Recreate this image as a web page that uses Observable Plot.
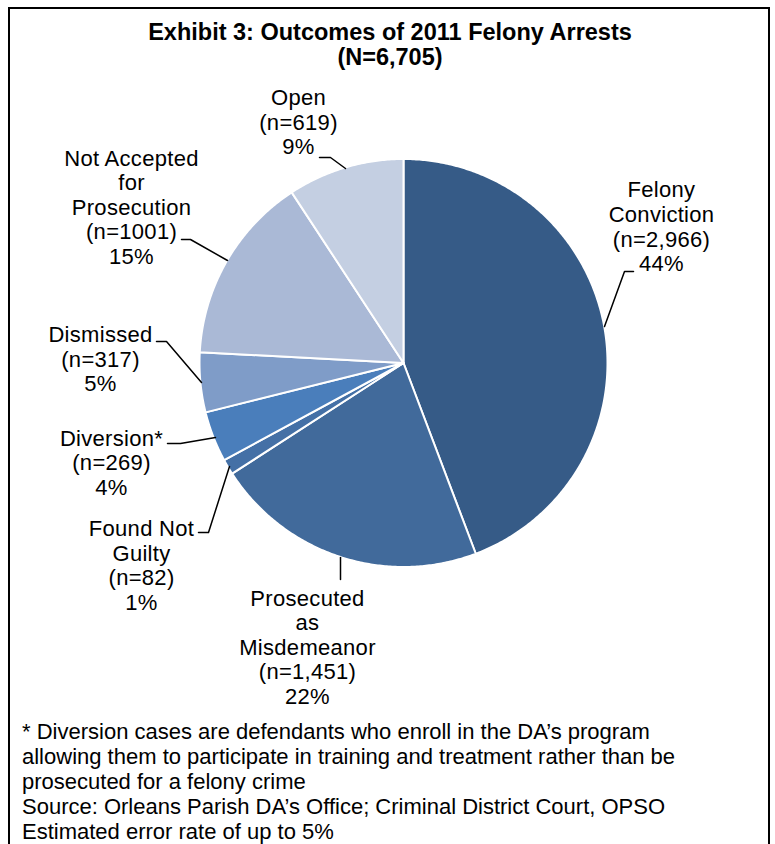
<!DOCTYPE html>
<html>
<head>
<meta charset="utf-8">
<script src="https://cdn.jsdelivr.net/npm/d3@7"></script>
<script src="https://cdn.jsdelivr.net/npm/@observablehq/plot@0.6"></script>
<style>
  html, body { margin: 0; padding: 0; background: #fff; overflow: hidden; }
  body { width: 775px; height: 844px; position: relative; font-family: "Liberation Sans", Arial, sans-serif; color: #000; }
  #chart { position: absolute; left: 0; top: 0; }
  #frame { position: absolute; left: 8px; top: 7px; width: 762px; height: 900px; border: 2.5px solid #000; border-bottom: none; box-sizing: border-box; pointer-events: none; }
  #title { position: absolute; left: 8px; width: 764px; top: 20px; text-align: center; font-weight: bold; font-size: 23.5px; line-height: 25px; }
  #note { position: absolute; left: 22px; top: 719px; font-size: 22px; line-height: 25px; white-space: nowrap; }
</style>
</head>
<body>
<div id="chart"></div>
<div id="frame"></div>
<div id="title">Exhibit 3: Outcomes of 2011 Felony Arrests<br>(N=6,705)</div>
<div id="note">* Diversion cases are defendants who enroll in the DA’s program<br>allowing them to participate in training and treatment rather than be<br>prosecuted for a felony crime<br>Source: Orleans Parish DA’s Office; Criminal District Court, OPSO<br>Estimated error rate of up to 5%</div>
<script>
// ---- data ----
const categories = ["Felony Conviction", "Prosecuted as Misdemeanor", "Found Not Guilty", "Diversion*", "Dismissed", "Not Accepted for Prosecution", "Open"];
const nameLines = ["Felony\nConviction", "Prosecuted\nas\nMisdemeanor", "Found Not\nGuilty", "Diversion*", "Dismissed", "Not Accepted\nfor\nProsecution", "Open"];
const counts = [2966, 1451, 82, 269, 317, 1001, 619];
const countLabels = ["(n=2,966)", "(n=1,451)", "(n=82)", "(n=269)", "(n=317)", "(n=1001)", "(n=619)"];
const percentLabels = ["44%", "22%", "1%", "4%", "5%", "15%", "9%"];
const colors = ["#365B87", "#416A9B", "#4470A6", "#4A7EBB", "#7F9CC8", "#AAB9D6", "#C4CFE2"];

// ---- layout ----
const cx = 403, cy = 362.5, R = 204;
const labelPos = [[661, 226], [307, 646.5], [141, 564.5], [111, 462], [100, 358.5], [131, 206.5], [298, 121.5]];
const leaders = [
  [[633, 271], [624, 271], [604, 326]],
  [[340, 557], [340, 579]],
  [[198, 532], [208, 532], [229, 466]],
  [[167, 443], [180, 443], [215, 437]],
  [[156, 341], [166, 341], [201, 382]],
  [[181, 239], [190, 239], [227, 260]],
  [[319, 157], [330, 157], [345, 168]]
];

const arcs = d3.pie().sort(null).value(d => d)(counts);
const slicePts = arcs.flatMap((a, i) => {
  const n = Math.max(3, Math.ceil((a.endAngle - a.startAngle) / (Math.PI / 360)));
  const pts = [{i, x: cx, y: cy}];
  for (let k = 0; k <= n; k++) {
    const t = a.startAngle + (a.endAngle - a.startAngle) * k / n;
    pts.push({i, x: cx + R * Math.sin(t), y: cy - R * Math.cos(t)});
  }
  return pts;
});
const leaderPts = leaders.flatMap((pts, i) => pts.map(([x, y]) => ({i, x, y})));
const labels = categories.map((c, i) => ({
  x: labelPos[i][0], y: labelPos[i][1],
  text: nameLines[i] + "\n" + countLabels[i] + "\n" + percentLabels[i]
}));

const chart = Plot.plot({
  width: 775,
  height: 844,
  margin: 0,
  x: {type: "identity", axis: null},
  y: {type: "identity", axis: null},
  style: {background: "transparent", fontFamily: "'Liberation Sans', Arial, sans-serif", fontSize: "22px", color: "#000", letterSpacing: "0.3px"},
  marks: [
    Plot.line(slicePts, {x: "x", y: "y", z: "i", fill: d => colors[d.i], stroke: "white", strokeWidth: 2, curve: "linear-closed", strokeLinejoin: "round"}),
    Plot.line(leaderPts, {x: "x", y: "y", z: "i", stroke: "#000", strokeWidth: 1.5}),
    Plot.text(labels, {x: "x", y: "y", text: "text", fontSize: 22, lineHeight: 1.118, fill: "#000", textAnchor: "middle"})
  ]
});
document.getElementById("chart").appendChild(chart);
</script>
</body>
</html>
